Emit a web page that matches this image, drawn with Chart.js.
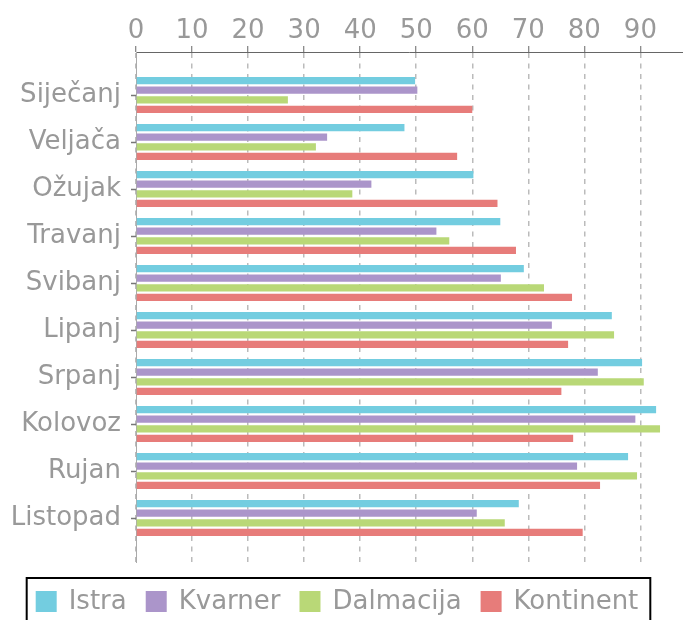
<!DOCTYPE html>
<html lang="hr">
<head>
<meta charset="UTF-8">
<title>Regije po mjesecima</title>
<script src="https://cdn.jsdelivr.net/npm/chart.js"></script>
<style>
  html, body { margin: 0; padding: 0; background: #fff; }
  .wrap { width: 683px; height: 620px; }
</style>
</head>
<body>
<div class="wrap"><canvas id="chart"></canvas></div>
<script>
const months = ['Siječanj', 'Veljača', 'Ožujak', 'Travanj', 'Svibanj', 'Lipanj', 'Srpanj', 'Kolovoz', 'Rujan', 'Listopad'];
const istra = [49.8, 47.9, 60.2, 65.0, 69.2, 84.9, 90.3, 92.8, 87.8, 68.3];
const kvarner = [50.2, 34.1, 42.0, 53.6, 65.1, 74.2, 82.4, 89.1, 78.7, 60.8];
const dalmacija = [27.1, 32.1, 38.6, 55.9, 72.8, 85.3, 90.6, 93.5, 89.4, 65.8];
const kontinent = [60.0, 57.3, 64.5, 67.8, 77.8, 77.1, 75.9, 78.0, 82.8, 79.7];

const FONT = '"DejaVu Sans", sans-serif';
const GREY = '#999';

function series(label, values, color) {
    return {
        label: label,
        data: values.map((v, i) => ({ x: v, y: i })),
        backgroundColor: color,
        borderWidth: 0,
        categoryPercentage: 0.82,
        barPercentage: 0.76
    };
}

// legend drawn by hand so it can sit in a framed box at the bottom
const boxedLegend = {
    id: 'boxedLegend',
    afterDraw(chart) {
        const ctx = chart.ctx;
        ctx.save();
        ctx.font = '26px ' + FONT;
        const box = 21, gap = 12, space = 19;
        const items = chart.data.datasets.map(ds => ({
            text: ds.label, color: ds.backgroundColor, w: ctx.measureText(ds.label).width
        }));
        const total = items.reduce((s, it) => s + box + gap + it.w, 0) + space * (items.length - 1);
        let x = 337 - total / 2;
        const cy = 602;
        ctx.strokeStyle = '#000';
        ctx.lineWidth = 2;
        ctx.strokeRect(x - 9, 578, total + 21, 60);
        ctx.textBaseline = 'middle';
        ctx.textAlign = 'left';
        items.forEach(it => {
            ctx.fillStyle = it.color;
            ctx.fillRect(x, cy - 11, box, box);
            ctx.fillStyle = GREY;
            ctx.fillText(it.text, x + box + gap, cy);
            x += box + gap + it.w + space;
        });
        ctx.restore();
    }
};

new Chart(document.getElementById('chart'), {
    type: 'bar',
    data: {
        datasets: [
            series('Istra', istra, '#73cde0'),
            series('Kvarner', kvarner, '#ab95ca'),
            series('Dalmacija', dalmacija, '#b9d877'),
            series('Kontinent', kontinent, '#e77c7a')
        ]
    },
    options: {
        indexAxis: 'y',
        responsive: true,
        maintainAspectRatio: false,
        animation: false,
        layout: { padding: { top: 0, left: 0, right: 0, bottom: 58 } },
        plugins: {
            legend: { display: false },
            tooltip: { enabled: false }
        },
        scales: {
            x: {
                type: 'linear',
                position: 'top',
                min: 0,
                max: 97.6,
                afterFit: s => { s.height = 52; },
                ticks: {
                    stepSize: 10,
                    includeBounds: false,
                    padding: -1,
                    color: GREY,
                    font: { family: FONT, size: 26 }
                },
                grid: { color: '#bbb', lineWidth: 1.5, tickLength: 6, tickColor: '#666', tickWidth: 1, tickBorderDash: [] },
                border: { color: '#666', dash: [5, 5.5] }
            },
            y: {
                type: 'linear',
                reverse: true,
                offset: false,
                min: -0.915,
                max: 9.936,
                afterFit: s => { s.width = 136; },
                ticks: {
                    stepSize: 1,
                    includeBounds: false,
                    autoSkip: false,
                    padding: 10,
                    color: GREY,
                    font: { family: FONT, size: 26 },
                    callback: v => months[v] ?? ''
                },
                grid: { offset: false, drawOnChartArea: false, tickLength: 5, color: '#777', tickColor: '#777', tickWidth: 1.5 },
                border: { color: '#aaa' }
            }
        }
    },
    plugins: [boxedLegend]
});
</script>
</body>
</html>
